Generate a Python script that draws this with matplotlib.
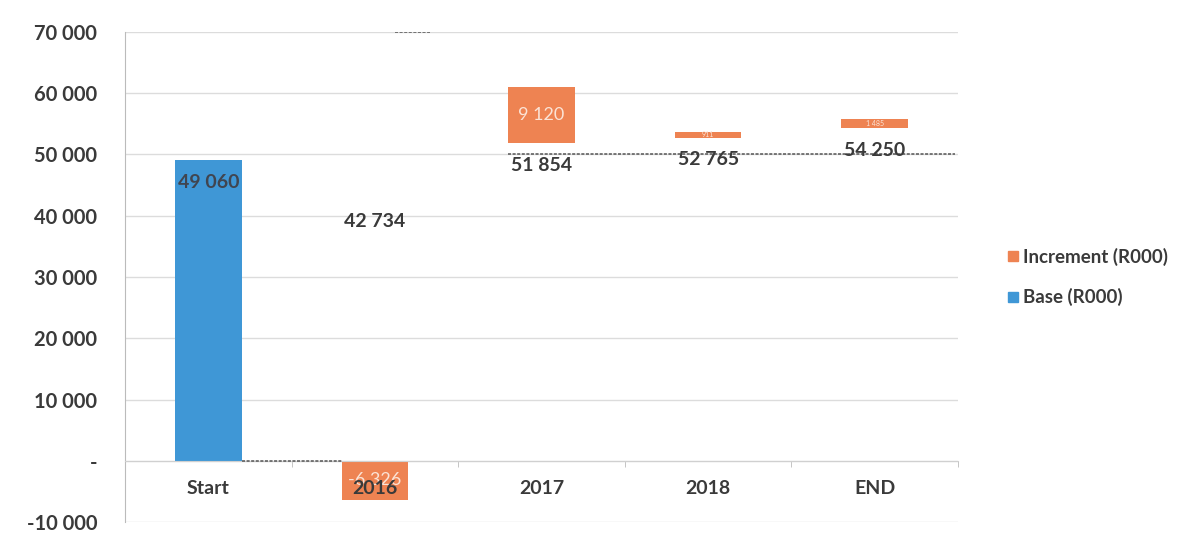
import numpy as np
import matplotlib.pyplot as plt
from matplotlib.ticker import FuncFormatter, MultipleLocator, FixedLocator

plt.rcParams['font.family'] = ['Lato', 'DejaVu Sans']

# Waterfall data (R000)
categories = ['Start', '2016', '2017', '2018', 'END']
base = [49060, 42734, 51854, 52765, 54250]
increment = [0, -6326, 9120, 911, 1485]

# connector lines: (from x, to x, level)
conn_from = [0.2, 1.12, 1.8]
conn_to = [0.8, 1.33, 4.48]
conn_level = [0, 70000, 50100]

blue = '#3f97d6'
orange = '#ee8352'
text_dark = '#3a3a3a'

def fmt(v):
    if v == 0:
        return '-'
    return f'{v:,.0f}'.replace(',', ' ')

fig = plt.figure(figsize=(11.96, 5.41), dpi=100)
ax = fig.add_axes([0.1045, 0.0351, 0.6965, 0.9058])

x = np.arange(len(categories))
w = 0.4

# base series: only the opening bar is coloured, the rest are hidden
for i, b in enumerate(base):
    ax.bar(x[i], b, w, color=blue if i == 0 else 'none', zorder=2)
    ax.annotate(fmt(b), (x[i], b), xytext=(0, -16), textcoords='offset points',
                ha='center', va='center', fontsize=14, fontweight='bold',
                color='#404550' if i == 0 else text_dark, zorder=4)

# increments stack on the base, negatives hang from zero
for i, inc in enumerate(increment):
    if inc == 0:
        continue
    bottom = base[i] if inc > 0 else 0
    ax.bar(x[i], inc, w, bottom=bottom, color=orange, zorder=2)
    fs = 13 if abs(inc) > 3000 else 5
    ax.text(x[i], bottom + inc / 2, fmt(inc), ha='center', va='center',
            fontsize=fs, color='#fbe3d6', zorder=4)

# category names sit just under the zero line, on top of the bars
for i, cat in enumerate(categories):
    ax.annotate(cat, (x[i], 0), xytext=(0, -20), textcoords='offset points',
                ha='center', va='center', fontsize=14, fontweight='bold',
                color=text_dark, zorder=5)

for a, b, lvl in zip(conn_from, conn_to, conn_level):
    ax.plot([a, b], [lvl, lvl], color='#555555', lw=1.1, ls=(0, (2, 1)), zorder=3)

ax.plot([], [], 's', color=orange, ms=7, label='Increment (R000)')
ax.plot([], [], 's', color=blue, ms=7, label='Base (R000)')

ax.set_xlim(-0.5, 4.5)
ax.set_ylim(-10000, 70000)
ax.yaxis.set_major_locator(MultipleLocator(10000))
ax.yaxis.set_major_formatter(FuncFormatter(lambda v, p: fmt(v)))
ax.grid(axis='y', color='#dcdcdc', lw=1, zorder=0)

ax.set_xticks(x)
ax.set_xticklabels([])
ax.xaxis.set_minor_locator(FixedLocator(np.arange(-0.5, 5, 1)))
ax.tick_params(axis='x', which='major', length=0)
ax.tick_params(axis='x', which='minor', length=4, color='#bbbbbb')
ax.tick_params(axis='y', length=0, pad=20)
for lab in ax.get_yticklabels():
    lab.set_fontsize(14.5)
    lab.set_fontweight('bold')
    lab.set_color(text_dark)

for s in ['top', 'right']:
    ax.spines[s].set_visible(False)
ax.spines['bottom'].set_position(('data', 0))
ax.spines['bottom'].set_color('#d0d0d0')
ax.spines['left'].set_color('#bbbbbb')

leg = ax.legend(loc='center left', bbox_to_anchor=(1.035, 0.5), frameon=False,
                fontsize=13.5, handletextpad=0.0, labelspacing=1.2, handlelength=1)
for t in leg.get_texts():
    t.set_color(text_dark)
    t.set_fontweight('bold')

fig.savefig('out.png', dpi=100)
